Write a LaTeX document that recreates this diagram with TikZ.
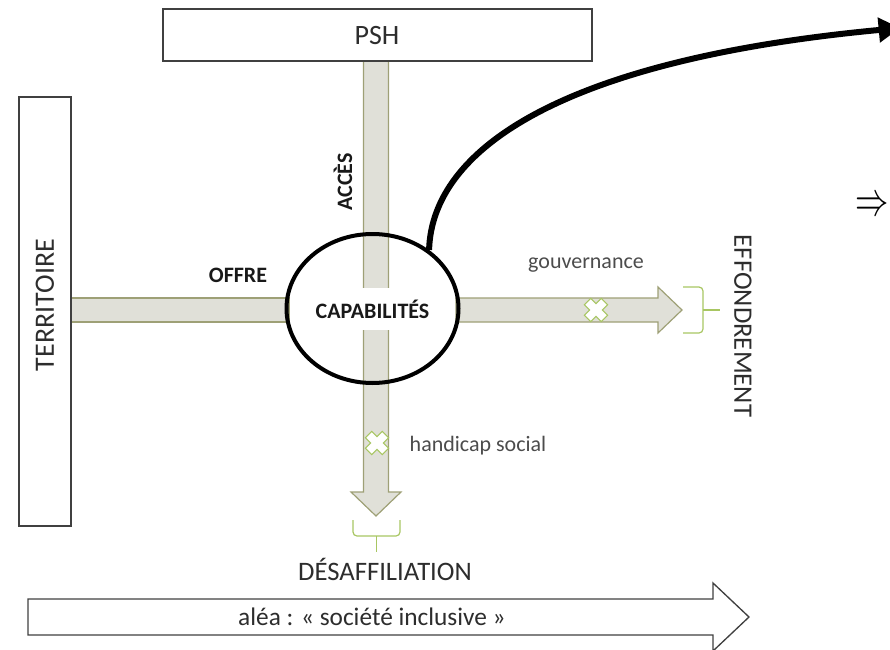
\documentclass[tikz,border=0pt]{standalone}
\usepackage{fontspec}
\usepackage{graphicx}
\setmainfont{Carlito}
\usetikzlibrary{arrows.meta,shapes.geometric}
\definecolor{bandfill}{RGB}{224,224,216}
\definecolor{bandline}{RGB}{158,160,118}
\definecolor{bracegreen}{RGB}{168,198,98}
\definecolor{boxline}{RGB}{64,64,64}
\definecolor{txt}{RGB}{45,45,45}
\begin{document}
\begin{tikzpicture}[x=0.75pt,y=-0.75pt,
  band/.style={fill=bandfill,draw=bandline,line width=0.9pt,line join=miter},
  boxnode/.style={draw=boxline,line width=1pt,fill=white,inner sep=0pt},
  xmark/.style={fill=white,draw=bracegreen,line width=0.8pt},
  bracestyle/.style={draw=bracegreen,line width=0.9pt,rounded corners=3pt},
  biglabel/.style={font=\fontsize{21}{25}\selectfont,text=txt,inner sep=0pt},
  smalllabel/.style={font=\fontsize{16.5}{20}\selectfont,text=txt!85,inner sep=0pt},
  boldlabel/.style={font=\bfseries\fontsize{16.5}{20}\selectfont,text=black!90,inner sep=0pt}]
\useasboundingbox (0,0) rectangle (890,650);

% ---- bands (behind everything) ----
\draw[band] (363.5,58) -- (363.5,492) -- (351,492) -- (376,516) -- (401,492) -- (388.5,492) -- (388.5,58) -- cycle;
\draw[band] (68,298) -- (289,298) -- (289,322) -- (68,322) -- cycle;
\draw[band] (456,298) -- (658,298) -- (658,287) -- (682,310) -- (658,333) -- (658,322) -- (456,322) -- cycle;

% ---- boxes ----
\node[boxnode,minimum width=321.75pt,minimum height=39pt] (psh) at (377.5,35) {};
\node[biglabel] (pshtxt) at (377,35.5) {PSH};
\node[boxnode,minimum width=39pt,minimum height=321.75pt] (terr) at (45,311.5) {};
\node[biglabel,rotate=90] (terrtxt) at (45,305) {TERRITOIRE};

% ---- central ellipse ----
\node[draw=black,ellipse,line width=3pt,minimum width=129pt,minimum height=111.75pt,inner sep=0pt] (cap) at (372.5,308.5) {};
\node[fill=white,boldlabel,minimum height=32pt,inner xsep=1pt] (captxt) at (372.5,309) {CAPABILITÉS};

% ---- crosses ----
\foreach \cx/\cy [count=\i] in {596/310,377/443}{
  \draw[xmark,shift={(\cx,\cy)},rotate=45]
    (4.5,12) -- (4.5,4.5) -- (12,4.5) -- (12,-4.5) -- (4.5,-4.5) -- (4.5,-12)
    -- (-4.5,-12) -- (-4.5,-4.5) -- (-12,-4.5) -- (-12,4.5) -- (-4.5,4.5) -- (-4.5,12) -- cycle;
}

% ---- braces ----
\draw[bracestyle] (683,287) -| (703,310) |- (683,333);
\coordinate (effbr) at (703,310);
\coordinate (effbrtip) at (720,310);
\draw[draw=bracegreen,line width=0.9pt] (effbr) -- (effbrtip);
\draw[bracestyle] (353,520) |- (400,536) -- (400,520);
\coordinate (desbr) at (376.5,536);
\coordinate (desbrtip) at (376.5,552);
\draw[draw=bracegreen,line width=0.9pt] (desbr) -- (desbrtip);

% ---- labels ----
\node[boldlabel,rotate=90] (acces) at (343,182) {ACCÈS};
\node[boldlabel,anchor=base] (offre) at (238,282) {OFFRE};
\node[smalllabel,anchor=base] (gouv) at (586,268) {gouvernance};
\node[smalllabel,anchor=base] (hand) at (478,451) {handicap social};
\node[biglabel,font=\fontsize{20}{24}\selectfont,rotate=-90] (eff) at (743,326) {EFFONDREMENT};
\node[biglabel,font=\fontsize{20}{24}\selectfont,anchor=base] (desaff) at (385,580) {DÉSAFFILIATION};

% ---- bottom arrow ----
\draw[draw=boxline,fill=white,line width=1pt] (28,599) -- (713,599) -- (713,583) -- (749,617) -- (713,651) -- (713,635) -- (28,635) -- cycle;
\node[biglabel,font=\fontsize{19}{23}\selectfont,anchor=base] (alea) at (372,625) {aléa : « société inclusive »};

% ---- curved arrow and implication ----
\coordinate (curveend) at (900,28);
\draw[line width=4.5pt,-{Triangle[length=16pt,width=18pt]}] (cap.46) .. controls (432,150) and (560,60) .. (curveend);
\node[inner sep=0pt,anchor=west] (impl) at (855,207) {\scalebox{2.5}[3.6]{$\Rightarrow$}};
\end{tikzpicture}
\end{document}
